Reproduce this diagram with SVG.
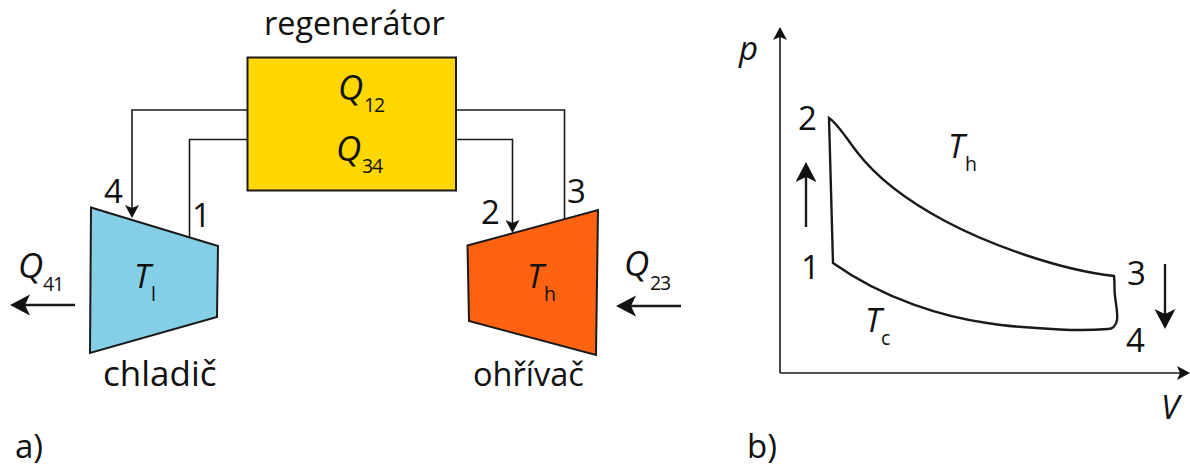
<svg xmlns="http://www.w3.org/2000/svg" width="1190" height="468" viewBox="0 0 1190 468">
<style>
text{font-family:"Open Sans","Noto Sans","Liberation Sans",sans-serif;fill:#111;font-size:33px}
.i{font-style:italic}
.q{font-size:35px}
.s{font-size:19.500px;letter-spacing:-1.200px}
.n{fill:none;stroke:#1a1a1a;stroke-width:1.600}
.w{fill:none;stroke:#1a1a1a;stroke-width:2.400}
.h{fill:#111;stroke:none}
.b{stroke:#1a1a1a;stroke-width:2}
</style>
<defs>
<path id="hd" class="h" d="M0 0L-20 -10.500L-15 0L-20 10.500Z"/>
<path id="hs" class="h" d="M0 0L-13 -7L-10 0L-13 7Z"/>
</defs>
<g id="connectors">
<path class="n" d="M247 110H132V212"/>
<use href="#hs" transform="translate(132,218) rotate(90)"/>
<path class="n" d="M247 139.500H189.500V237"/>
<path class="n" d="M456 110H564.500V219"/>
<path class="n" d="M456 139.500H512.500V228"/>
<use href="#hs" transform="translate(512.500,233) rotate(90)"/>
<path class="w" d="M75 305H25"/>
<use href="#hd" transform="translate(10,305) rotate(180)"/>
<path class="w" d="M681 306H630"/>
<use href="#hd" transform="translate(616,306) rotate(180)"/>
</g>
<g id="regenerator">
<rect class="b" x="247.500" y="57.500" width="208.500" height="133" fill="#ffd700"/>
<text x="264" y="35" style="font-size:32.400px">regenerátor</text>
<text class="i q" x="338" y="100">Q</text><text class="s" x="364" y="112">12</text>
<text class="i q" x="336" y="161">Q</text><text class="s" x="362" y="173">34</text>
</g>
<g id="chladic">
<path class="b" d="M91 207.500L218 246L217 317L90 353Z" fill="#84cfe5"/>
<text class="i" x="134" y="288">T</text><text class="s" x="151" y="301">l</text>
<text x="103" y="386" style="font-size:35px">chladič</text>
<text x="104" y="203">4</text>
<text x="192" y="227">1</text>
</g>
<g id="ohrivac">
<path class="b" d="M467.500 245.500L598 210L596 355L469 321Z" fill="#ff6210"/>
<text class="i" x="527" y="288">T</text><text class="s" x="544" y="301">h</text>
<text x="473" y="386" style="font-size:32.500px">ohřívač</text>
<text x="481" y="224">2</text>
<text x="567" y="203">3</text>
</g>
<g id="q-labels">
<text class="i q" x="18" y="278">Q</text><text class="s" x="43" y="291">41</text>
<text class="i q" x="624" y="276">Q</text><text class="s" x="650" y="290">23</text>
<text x="15" y="458">a)</text>
<text x="747" y="458">b)</text>
</g>
<g id="pv-diagram">
<path class="n" d="M780 373V35M780 373H1182"/>
<use href="#hs" transform="translate(780,27) rotate(-90)"/>
<use href="#hs" transform="translate(1190,373)"/>
<path class="w" d="M829 118C838 124 846 138 857 152C880 182 915 205 945 221C990 245 1060 270 1114 276C1115 285 1114 290 1115 296C1116 305 1118 314 1117 320C1116 326 1112 329 1108 329C1095 330 1080 330.500 1060 329.500C1030 328 1005 326 987 323C945 317 885 300 833 263Z"/>
<path class="w" d="M806 227V175"/>
<use href="#hd" transform="translate(806,162) rotate(-90)"/>
<path class="w" d="M1165 264V315"/>
<use href="#hd" transform="translate(1165,329) rotate(90)"/>
<text class="i" x="739" y="60">p</text>
<text class="i" x="1161" y="419">V</text>
<text x="798" y="130">2</text>
<text x="801" y="279">1</text>
<text x="1127" y="285">3</text>
<text x="1126" y="352">4</text>
<text class="i" x="948" y="158">T</text><text class="s" x="965" y="171">h</text>
<text class="i" x="865" y="332">T</text><text class="s" x="881" y="345">c</text>
</g>
</svg>
